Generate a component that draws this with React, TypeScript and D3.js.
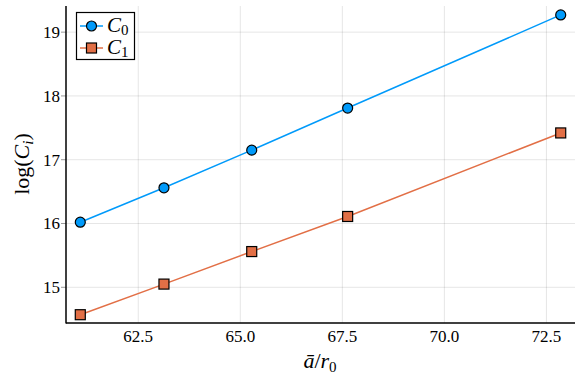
import React from "react";
import * as d3 from "d3";

const xValues = [61.08, 63.13, 65.28, 67.63, 72.85];
const c0Values = [16.02, 16.56, 17.15, 17.81, 19.27];
const c1Values = [14.57, 15.05, 15.56, 16.11, 17.42];
const xTicks = [62.5, 65.0, 67.5, 70.0, 72.5];
const yTicks = [15, 16, 17, 18, 19];

const W = 582;
const H = 383;
const FONT = "Liberation Serif, DejaVu Serif, serif";
const COL0 = "#009AFA";
const COL1 = "#E26F46";

export default function App() {
  const left = 66, right = 575, top = 6, bottom = 323;
  const x = d3.scaleLinear().domain([60.73, 73.2]).range([left, right]);
  const y = d3.scaleLinear().domain([14.44, 19.41]).range([bottom, top]);
  const line = d3.line<number>().x((_, i) => x(xValues[i])).y((d) => y(d));
  const ts = { fontFamily: FONT };

  return (
    <svg width={W} height={H} style={{ position: "absolute", left: 0, top: 0, background: "#fff", fontFamily: FONT }}>
      {xTicks.map((t) => (
        <line key={"gx" + t} x1={x(t)} x2={x(t)} y1={top} y2={bottom} stroke="#000" strokeOpacity={0.1} strokeWidth={1} />
      ))}
      {yTicks.map((t) => (
        <line key={"gy" + t} x1={left} x2={right} y1={y(t)} y2={y(t)} stroke="#000" strokeOpacity={0.1} strokeWidth={1} />
      ))}
      {yTicks.map((t) => (
        <line key={"ty" + t} x1={left - 5} x2={left} y1={y(t)} y2={y(t)} stroke="#000" strokeOpacity={0.4} strokeWidth={1} />
      ))}
      <line x1={left} x2={left} y1={top} y2={bottom + 0.5} stroke="#000" strokeWidth={1.5} />
      <line x1={left} x2={right} y1={bottom} y2={bottom} stroke="#000" strokeWidth={1.5} />
      {xTicks.map((t) => (
        <text key={"lx" + t} x={x(t)} y={342} textAnchor="middle" style={ts} fontSize={17} fill="#000">
          {t.toFixed(1)}
        </text>
      ))}
      {yTicks.map((t) => (
        <text key={"ly" + t} x={60} y={y(t) + 6} textAnchor="end" style={ts} fontSize={17} fill="#000">
          {t}
        </text>
      ))}
      <text x={320} y={368} textAnchor="middle" style={ts} fontSize={22} fill="#000">
        <tspan fontStyle="italic">ā</tspan>
        <tspan>/</tspan>
        <tspan fontStyle="italic">r</tspan>
        <tspan fontSize={15} dy={4}>0</tspan>
      </text>
      <text transform={`translate(29,164) rotate(-90)`} textAnchor="middle" style={ts} fontSize={22} fill="#000">
        <tspan>log(</tspan>
        <tspan fontStyle="italic">C</tspan>
        <tspan fontStyle="italic" fontSize={15} dy={4}>i</tspan>
        <tspan dy={-4}>)</tspan>
      </text>
      <path d={line(c0Values) || ""} fill="none" stroke={COL0} strokeWidth={1.5} />
      <path d={line(c1Values) || ""} fill="none" stroke={COL1} strokeWidth={1.5} />
      {c0Values.map((v, i) => (
        <circle key={"p0" + i} cx={x(xValues[i])} cy={y(v)} r={5} fill={COL0} stroke="#000" strokeWidth={1.2} />
      ))}
      {c1Values.map((v, i) => (
        <rect key={"p1" + i} x={x(xValues[i]) - 5} y={y(v) - 5} width={10} height={10} fill={COL1} stroke="#000" strokeWidth={1.2} />
      ))}
      <rect x={76.5} y={12.5} width={58} height={47} fill="#fff" stroke="#000" strokeWidth={1.2} />
      <line x1={80} x2={103} y1={26} y2={26} stroke={COL0} strokeWidth={1.5} />
      <circle cx={91.5} cy={26} r={5} fill={COL0} stroke="#000" strokeWidth={1.2} />
      <text x={107} y={32} style={ts} fontSize={21} fill="#000">
        <tspan fontStyle="italic">C</tspan>
        <tspan fontSize={15} dy={3}>0</tspan>
      </text>
      <line x1={80} x2={103} y1={48} y2={48} stroke={COL1} strokeWidth={1.5} />
      <rect x={86.5} y={43} width={10} height={10} fill={COL1} stroke="#000" strokeWidth={1.2} />
      <text x={107} y={54} style={ts} fontSize={21} fill="#000">
        <tspan fontStyle="italic">C</tspan>
        <tspan fontSize={15} dy={3}>1</tspan>
      </text>
    </svg>
  );
}
